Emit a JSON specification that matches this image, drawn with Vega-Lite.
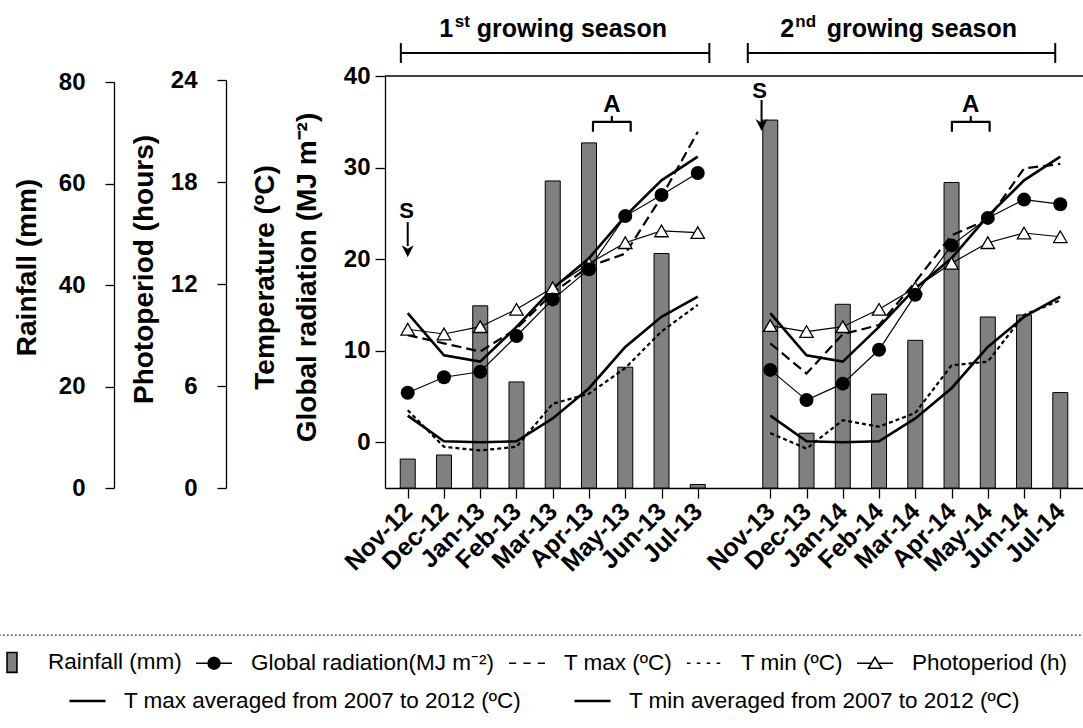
{
  "$schema": "https://vega.github.io/schema/vega-lite/v6.json",
  "width": 698,
  "height": 412,
  "autosize": {"type": "none"},
  "padding": {"left": 385, "top": 76, "right": 0, "bottom": 240},
  "background": "white",
  "datasets": {
    "main": [
      {"k": 0, "month": "Nov-12", "season": "1st", "rain": 5.7, "rad": 5.4, "tmax": 11.7, "tmin": 3.5, "photo": 9.34, "tmaxAvg": 14.1, "tminAvg": 2.9},
      {"k": 1, "month": "Dec-12", "season": "1st", "rain": 6.5, "rad": 7.1, "tmax": 10.8, "tmin": -0.5, "photo": 9.06, "tmaxAvg": 9.5, "tminAvg": 0.1},
      {"k": 2, "month": "Jan-13", "season": "1st", "rain": 35.9, "rad": 7.7, "tmax": 9.9, "tmin": -0.9, "photo": 9.49, "tmaxAvg": 8.8, "tminAvg": 0.0},
      {"k": 3, "month": "Feb-13", "season": "1st", "rain": 20.9, "rad": 11.6, "tmax": 12.4, "tmin": -0.5, "photo": 10.51, "tmaxAvg": 12.6, "tminAvg": 0.1},
      {"k": 4, "month": "Mar-13", "season": "1st", "rain": 60.5, "rad": 15.6, "tmax": 16.3, "tmin": 4.2, "photo": 11.78, "tmaxAvg": 16.8, "tminAvg": 2.6},
      {"k": 5, "month": "Apr-13", "season": "1st", "rain": 68.0, "rad": 18.9, "tmax": 19.2, "tmin": 5.3, "photo": 13.2, "tmaxAvg": 20.1, "tminAvg": 5.9},
      {"k": 6, "month": "May-13", "season": "1st", "rain": 23.8, "rad": 24.7, "tmax": 20.6, "tmin": 8.1, "photo": 14.43, "tmaxAvg": 24.7, "tminAvg": 10.4},
      {"k": 7, "month": "Jun-13", "season": "1st", "rain": 46.2, "rad": 27.0, "tmax": 26.8, "tmin": 12.1, "photo": 15.12, "tmaxAvg": 28.6, "tminAvg": 13.7},
      {"k": 8, "month": "Jul-13", "season": "1st", "rain": 0.7, "rad": 29.4, "tmax": 33.9, "tmin": 15.0, "photo": 15.02, "tmaxAvg": 31.2, "tminAvg": 15.9},
      {"k": 10, "month": "Nov-13", "season": "2nd", "rain": 72.5, "rad": 7.9, "tmax": 10.8, "tmin": 1.0, "photo": 9.55, "tmaxAvg": 14.1, "tminAvg": 2.9},
      {"k": 11, "month": "Dec-13", "season": "2nd", "rain": 10.8, "rad": 4.6, "tmax": 7.5, "tmin": -0.7, "photo": 9.2, "tmaxAvg": 9.5, "tminAvg": 0.1},
      {"k": 12, "month": "Jan-14", "season": "2nd", "rain": 36.2, "rad": 6.4, "tmax": 11.8, "tmin": 2.4, "photo": 9.49, "tmaxAvg": 8.8, "tminAvg": 0.0},
      {"k": 13, "month": "Feb-14", "season": "2nd", "rain": 18.5, "rad": 10.1, "tmax": 12.8, "tmin": 1.7, "photo": 10.51, "tmaxAvg": 12.6, "tminAvg": 0.1},
      {"k": 14, "month": "Mar-14", "season": "2nd", "rain": 29.1, "rad": 16.1, "tmax": 17.5, "tmin": 3.2, "photo": 11.78, "tmaxAvg": 16.8, "tminAvg": 2.6},
      {"k": 15, "month": "Apr-14", "season": "2nd", "rain": 60.2, "rad": 21.5, "tmax": 22.6, "tmin": 8.4, "photo": 13.22, "tmaxAvg": 20.1, "tminAvg": 5.9},
      {"k": 16, "month": "May-14", "season": "2nd", "rain": 33.7, "rad": 24.5, "tmax": 24.3, "tmin": 8.8, "photo": 14.43, "tmaxAvg": 24.7, "tminAvg": 10.4},
      {"k": 17, "month": "Jun-14", "season": "2nd", "rain": 34.1, "rad": 26.5, "tmax": 29.9, "tmin": 13.9, "photo": 15.0, "tmaxAvg": 28.6, "tminAvg": 13.7},
      {"k": 18, "month": "Jul-14", "season": "2nd", "rain": 18.8, "rad": 26.0, "tmax": 30.4, "tmin": 15.5, "photo": 14.78, "tmaxAvg": 31.2, "tminAvg": 15.9}
    ],
    "braces": [
      {"id": 1, "o": 1, "x": 5.11, "y": 33.9}, {"id": 1, "o": 2, "x": 5.11, "y": 34.98}, {"id": 1, "o": 3, "x": 5.63, "y": 34.98},
      {"id": 1, "o": 4, "x": 5.63, "y": 35.55}, {"id": 1, "o": 5, "x": 5.63, "y": 34.98}, {"id": 1, "o": 6, "x": 6.15, "y": 34.98},
      {"id": 1, "o": 7, "x": 6.15, "y": 33.9},
      {"id": 2, "o": 1, "x": 15.01, "y": 33.9}, {"id": 2, "o": 2, "x": 15.01, "y": 34.98}, {"id": 2, "o": 3, "x": 15.53, "y": 34.98},
      {"id": 2, "o": 4, "x": 15.53, "y": 35.55}, {"id": 2, "o": 5, "x": 15.53, "y": 34.98}, {"id": 2, "o": 6, "x": 16.05, "y": 34.98},
      {"id": 2, "o": 7, "x": 16.05, "y": 33.9}
    ]
  },
  "layer": [
    {
      "data": {"name": "main"},
      "mark": {"type": "bar", "width": 15, "fill": "#808080", "stroke": "black", "strokeWidth": 1},
      "encoding": {
        "x": {
          "field": "k", "type": "quantitative", "title": null,
          "scale": {"domain": [-0.489, 18.488], "nice": false, "zero": false},
          "axis": {
            "values": [0, 1, 2, 3, 4, 5, 6, 7, 8, 10, 11, 12, 13, 14, 15, 16, 17, 18],
            "labelExpr": "['Nov-12','Dec-12','Jan-13','Feb-13','Mar-13','Apr-13','May-13','Jun-13','Jul-13','','Nov-13','Dec-13','Jan-14','Feb-14','Mar-14','Apr-14','May-14','Jun-14','Jul-14'][datum.value]",
            "labelAngle": -45, "labelAlign": "right", "labelBaseline": "middle",
            "labelPadding": 9, "tickSize": 10, "labelFontSize": 25
          }
        },
        "y": {
          "field": "rain", "type": "quantitative", "title": "Rainfall (mm)",
          "scale": {"domain": [0, 80], "range": [412, 6], "nice": false, "zero": true},
          "axis": {
            "orient": "left", "offset": 271, "values": [0, 20, 40, 60, 80],
            "tickSize": 9, "labelPadding": 20,
            "titleX": -78.5, "titleY": 191, "titleAlign": "center", "titleBaseline": "alphabetic", "titleAngle": 270
          }
        }
      }
    },
    {
      "layer": [
        {
          "data": {"name": "main"},
          "mark": {"type": "line", "color": "black", "strokeWidth": 2.2, "strokeDash": [10, 5], "strokeCap": "butt"},
          "encoding": {
            "x": {"field": "k", "type": "quantitative", "title": null},
            "y": {
              "field": "tmax", "type": "quantitative",
              "title": ["Temperature (ºC)", "Global radiation (MJ m⁻²)"],
              "scale": {"domain": [-5, 40], "nice": false, "zero": false},
              "axis": {
                "orient": "left", "offset": 0, "values": [0, 10, 20, 30, 40],
                "tickSize": 10, "labelPadding": 5,
                "titleX": -112, "titleY": 201, "titleAlign": "center", "titleBaseline": "alphabetic",
                "titleAngle": 270, "titleLineHeight": 42.5
              }
            },
            "detail": {"field": "season"}
          }
        },
        {
          "data": {"name": "main"},
          "mark": {"type": "line", "color": "black", "strokeWidth": 2.2, "strokeDash": [4, 3], "strokeCap": "butt"},
          "encoding": {
            "x": {"field": "k", "type": "quantitative", "title": null},
            "y": {"field": "tmin", "type": "quantitative", "scale": {"domain": [-5, 40], "nice": false, "zero": false}},
            "detail": {"field": "season"}
          }
        },
        {
          "data": {"name": "main"},
          "mark": {"type": "line", "color": "black", "strokeWidth": 2.6},
          "encoding": {
            "x": {"field": "k", "type": "quantitative", "title": null},
            "y": {"field": "tmaxAvg", "type": "quantitative", "scale": {"domain": [-5, 40], "nice": false, "zero": false}},
            "detail": {"field": "season"}
          }
        },
        {
          "data": {"name": "main"},
          "mark": {"type": "line", "color": "black", "strokeWidth": 2.6},
          "encoding": {
            "x": {"field": "k", "type": "quantitative", "title": null},
            "y": {"field": "tminAvg", "type": "quantitative", "scale": {"domain": [-5, 40], "nice": false, "zero": false}},
            "detail": {"field": "season"}
          }
        }
      ]
    },
    {
      "layer": [
        {
          "data": {"name": "main"},
          "mark": {"type": "line", "color": "black", "strokeWidth": 1.2},
          "encoding": {
            "x": {"field": "k", "type": "quantitative", "title": null},
            "y": {
              "field": "photo", "type": "quantitative", "title": "Photoperiod (hours)",
              "scale": {"domain": [0, 24], "range": [412, 4], "nice": false, "zero": true},
              "axis": {
                "orient": "left", "offset": 159, "values": [0, 6, 12, 18, 24],
                "tickSize": 9, "labelPadding": 20,
                "titleX": -73.6, "titleY": 193, "titleAlign": "center", "titleBaseline": "alphabetic", "titleAngle": 270
              }
            },
            "detail": {"field": "season"}
          }
        },
        {
          "data": {"name": "main"},
          "mark": {"type": "point", "shape": "triangle-up", "filled": true, "fill": "white", "stroke": "black", "strokeWidth": 1.3, "size": 180, "opacity": 1},
          "encoding": {
            "x": {"field": "k", "type": "quantitative", "title": null},
            "y": {"field": "photo", "type": "quantitative", "scale": {"domain": [0, 24], "range": [412, 4], "nice": false, "zero": true}}
          }
        }
      ]
    },
    {
      "layer": [
        {
          "data": {"name": "main"},
          "mark": {"type": "line", "color": "black", "strokeWidth": 1.2},
          "encoding": {
            "x": {"field": "k", "type": "quantitative", "title": null},
            "y": {"field": "rad", "type": "quantitative", "scale": {"domain": [-5, 40], "nice": false, "zero": false}, "axis": null},
            "detail": {"field": "season"}
          }
        },
        {
          "data": {"name": "main"},
          "mark": {"type": "point", "shape": "circle", "filled": true, "color": "black", "size": 196, "opacity": 1},
          "encoding": {
            "x": {"field": "k", "type": "quantitative", "title": null},
            "y": {"field": "rad", "type": "quantitative", "scale": {"domain": [-5, 40], "nice": false, "zero": false}, "axis": null}
          }
        },
        {
          "data": {"values": [{"v": 40}]},
          "mark": {"type": "rule", "color": "black", "strokeWidth": 1.3},
          "encoding": {
            "y": {"field": "v", "type": "quantitative", "scale": {"domain": [-5, 40], "nice": false, "zero": false}, "axis": null}
          }
        },
        {
          "data": {"values": [{"x1": -0.19, "x2": 8.32, "y": 42.51}, {"x1": 9.38, "x2": 17.86, "y": 42.51}]},
          "mark": {"type": "rule", "color": "black", "strokeWidth": 2},
          "encoding": {
            "x": {"field": "x1", "type": "quantitative", "title": null},
            "x2": {"field": "x2"},
            "y": {"field": "y", "type": "quantitative", "axis": null}
          }
        },
        {
          "data": {"values": [
            {"x": -0.19, "y1": 43.6, "y2": 41.42}, {"x": 8.32, "y1": 43.6, "y2": 41.42},
            {"x": 9.38, "y1": 43.6, "y2": 41.42}, {"x": 17.86, "y1": 43.6, "y2": 41.42}
          ]},
          "mark": {"type": "rule", "color": "black", "strokeWidth": 2},
          "encoding": {
            "x": {"field": "x", "type": "quantitative", "title": null},
            "y": {"field": "y1", "type": "quantitative", "axis": null},
            "y2": {"field": "y2"}
          }
        },
        {
          "data": {"values": [{"x": 1.904, "y": 44.26, "t": "growing season"}, {"x": 11.556, "y": 44.26, "t": "growing season"}]},
          "mark": {"type": "text", "align": "left", "baseline": "alphabetic", "font": "Liberation Sans", "fontWeight": "bold", "fontSize": 25, "color": "black"},
          "encoding": {
            "x": {"field": "x", "type": "quantitative", "title": null},
            "y": {"field": "y", "type": "quantitative", "axis": null},
            "text": {"field": "t"}
          }
        },
        {
          "data": {"values": [{"x": 1.25, "y": 44.26, "t": "1"}, {"x": 10.66, "y": 44.26, "t": "2"}]},
          "mark": {"type": "text", "align": "right", "baseline": "alphabetic", "font": "Liberation Sans", "fontWeight": "bold", "fontSize": 25, "color": "black"},
          "encoding": {
            "x": {"field": "x", "type": "quantitative", "title": null},
            "y": {"field": "y", "type": "quantitative", "axis": null},
            "text": {"field": "t"}
          }
        },
        {
          "data": {"values": [{"x": 1.3, "y": 45.35, "t": "st"}, {"x": 10.69, "y": 45.35, "t": "nd"}]},
          "mark": {"type": "text", "align": "left", "baseline": "alphabetic", "font": "Liberation Sans", "fontWeight": "bold", "fontSize": 17, "color": "black"},
          "encoding": {
            "x": {"field": "x", "type": "quantitative", "title": null},
            "y": {"field": "y", "type": "quantitative", "axis": null},
            "text": {"field": "t"}
          }
        },
        {
          "data": {"name": "braces"},
          "mark": {"type": "line", "color": "black", "strokeWidth": 2.2, "strokeJoin": "round"},
          "encoding": {
            "x": {"field": "x", "type": "quantitative", "title": null},
            "y": {"field": "y", "type": "quantitative", "axis": null},
            "detail": {"field": "id"},
            "order": {"field": "o"}
          }
        },
        {
          "data": {"values": [{"x": 5.629, "y": 36.06, "t": "A"}, {"x": 15.525, "y": 36.06, "t": "A"}]},
          "mark": {"type": "text", "align": "center", "baseline": "alphabetic", "font": "Liberation Sans", "fontWeight": "bold", "fontSize": 24, "color": "black"},
          "encoding": {
            "x": {"field": "x", "type": "quantitative", "title": null},
            "y": {"field": "y", "type": "quantitative", "axis": null},
            "text": {"field": "t"}
          }
        },
        {
          "data": {"values": [{"x": -0.03, "y": 24.49, "t": "S"}, {"x": 9.706, "y": 37.6, "t": "S"}]},
          "mark": {"type": "text", "align": "center", "baseline": "alphabetic", "font": "Liberation Sans", "fontWeight": "bold", "fontSize": 22, "color": "black"},
          "encoding": {
            "x": {"field": "x", "type": "quantitative", "title": null},
            "y": {"field": "y", "type": "quantitative", "axis": null},
            "text": {"field": "t"}
          }
        },
        {
          "data": {"values": [{"x": 0.0, "y1": 24.05, "y2": 21.43}, {"x": 9.76, "y1": 37.38, "y2": 34.75}]},
          "mark": {"type": "rule", "color": "black", "strokeWidth": 2},
          "encoding": {
            "x": {"field": "x", "type": "quantitative", "title": null},
            "y": {"field": "y1", "type": "quantitative", "axis": null},
            "y2": {"field": "y2"}
          }
        },
        {
          "data": {"values": [{"x": 0.0, "y": 20.87}, {"x": 9.76, "y": 34.64}]},
          "mark": {"type": "point", "shape": "M-1,-1L0,1L1,-1L0,-0.4Z", "filled": true, "color": "black", "size": 144, "opacity": 1},
          "encoding": {
            "x": {"field": "x", "type": "quantitative", "title": null},
            "y": {"field": "y", "type": "quantitative", "axis": null}
          }
        },
        {
          "data": {"values": [{"x1": -11.5, "x2": 19.5, "y": -21.06}]},
          "mark": {"type": "rule", "color": "#333333", "strokeWidth": 1.2, "strokeDash": [2, 2]},
          "encoding": {
            "x": {"field": "x1", "type": "quantitative", "title": null},
            "x2": {"field": "x2"},
            "y": {"field": "y", "type": "quantitative", "axis": null}
          }
        },
        {
          "data": {"values": [
            {"lg": "Rainfall (mm)"}, {"lg": "Global radiation(MJ m⁻²)"}, {"lg": "T max (ºC)"}, {"lg": "T min (ºC)"}, {"lg": "Photoperiod (h)"}
          ]},
          "mark": {"type": "point", "filled": true, "stroke": "black", "opacity": 0},
          "encoding": {
            "shape": {
              "field": "lg", "type": "nominal",
              "scale": {
                "domain": ["Rainfall (mm)", "Global radiation(MJ m⁻²)", "T max (ºC)", "T min (ºC)", "Photoperiod (h)"],
                "range": [
                  "M-0.22,-0.55H0.33V0.55H-0.22Z",
                  "M-1,0H1M0.33,0L0.286,0.165L0.165,0.286L0,0.33L-0.165,0.286L-0.286,0.165L-0.33,0L-0.286,-0.165L-0.165,-0.286L0,-0.33L0.165,-0.286L0.286,-0.165Z",
                  "M-1,0H-0.6M-0.2,0H0.2M0.6,0H1",
                  "M-0.95,0H-0.75M-0.4,0H-0.2M0.15,0H0.35M0.7,0H0.9",
                  "M-1,0H-0.17M0.17,0H1M0,-0.33L0.36,0.28H-0.36Z"
                ]
              },
              "legend": {
                "title": null, "orient": "none", "legendX": -393, "legendY": 567, "direction": "horizontal",
                "symbolSize": 1296, "symbolStrokeWidth": 1.6, "symbolOpacity": 1,
                "labelFontSize": 22.5, "labelOffset": 18, "labelLimit": 600, "columnPadding": 10
              }
            },
            "fill": {
              "field": "lg", "type": "nominal",
              "scale": {
                "domain": ["Rainfall (mm)", "Global radiation(MJ m⁻²)", "T max (ºC)", "T min (ºC)", "Photoperiod (h)"],
                "range": ["#808080", "black", "transparent", "transparent", "white"]
              },
              "legend": {
                "title": null, "orient": "none", "legendX": -393, "legendY": 567, "direction": "horizontal",
                "symbolSize": 1296, "symbolStrokeWidth": 1.6, "symbolOpacity": 1,
                "labelFontSize": 22.5, "labelOffset": 18, "labelLimit": 600, "columnPadding": 10
              }
            }
          }
        },
        {
          "data": {"values": [
            {"lg2": "T max averaged from 2007 to 2012 (ºC)"}, {"lg2": "T min averaged from 2007 to 2012 (ºC)"}
          ]},
          "mark": {"type": "point", "fill": "transparent", "stroke": "black", "opacity": 0},
          "encoding": {
            "shape": {
              "field": "lg2", "type": "nominal",
              "scale": {
                "domain": ["T max averaged from 2007 to 2012 (ºC)", "T min averaged from 2007 to 2012 (ºC)"],
                "range": ["M-1,0H1", "M-1,0H1"]
              },
              "legend": {
                "title": null, "orient": "none", "legendX": -317, "legendY": 605.5, "direction": "horizontal",
                "symbolSize": 1296, "symbolStrokeWidth": 2.6, "symbolOpacity": 1,
                "labelFontSize": 22.5, "labelOffset": 17, "labelLimit": 600, "columnPadding": 47
              }
            }
          }
        }
      ],
      "resolve": {"scale": {"shape": "independent", "fill": "independent"}}
    }
  ],
  "resolve": {"scale": {"y": "independent"}},
  "config": {
    "view": {"stroke": null},
    "axis": {
      "domainColor": "black", "tickColor": "black", "labelColor": "black", "titleColor": "black",
      "labelFont": "Liberation Sans", "titleFont": "Liberation Sans",
      "labelFontWeight": "bold", "titleFontWeight": "bold",
      "labelFontSize": 24, "titleFontSize": 28, "grid": false,
      "domainWidth": 1.3, "tickWidth": 1.3, "labelFlush": false, "labelOverlap": false
    },
    "legend": {
      "labelFont": "Liberation Sans", "labelColor": "black", "padding": 0, "labelFontWeight": "normal"
    }
  }
}
